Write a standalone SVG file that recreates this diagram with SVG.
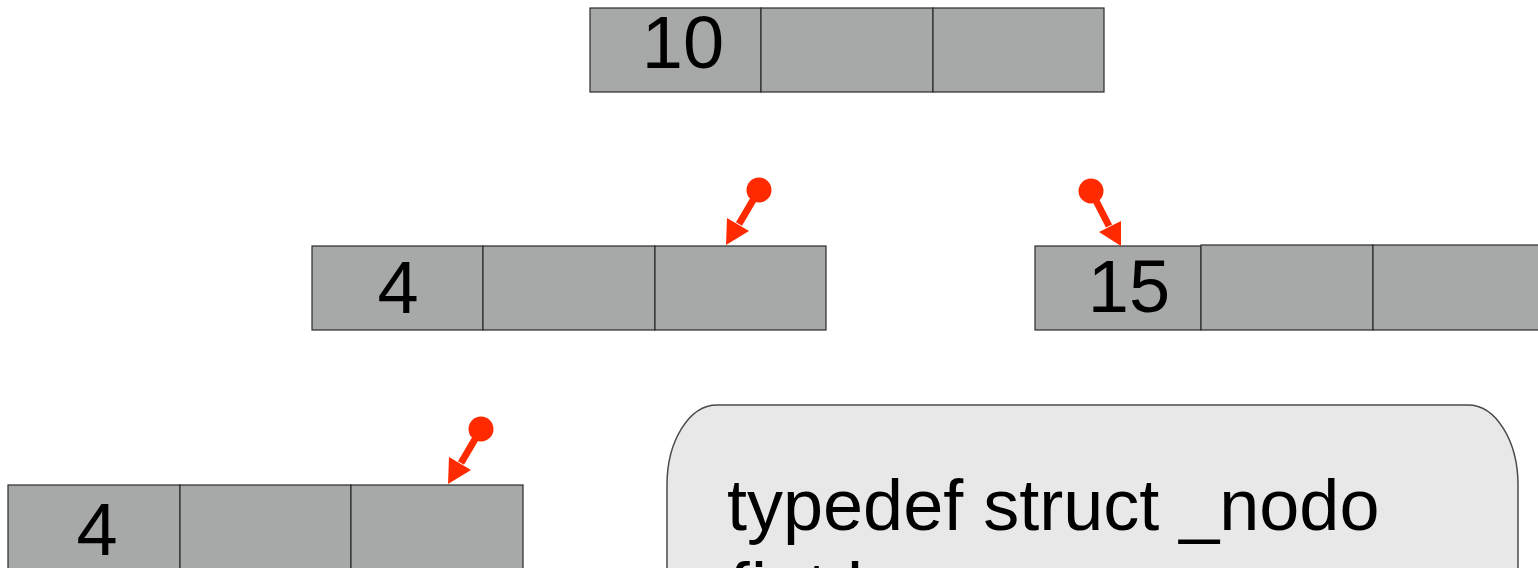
<svg xmlns="http://www.w3.org/2000/svg" width="1538" height="568" viewBox="0 0 1538 568">
  <style>
    .cell { fill: #a6a9a7; stroke: #2b2b2b; stroke-width: 1.2; }
    .val { font-family: "Liberation Sans", Arial, sans-serif; font-size: 74px; fill: #000; text-anchor: middle; }
    .code { font-family: "Liberation Sans", Arial, sans-serif; font-size: 72px; fill: #000; }
    .ptr { stroke: #ff2a00; stroke-width: 7; fill: none; }
    .dot, .head { fill: #ff2a00; }
  </style>

  <rect width="1538" height="568" fill="#ffffff"/>

  <!-- root node -->
  <g id="node-10">
    <rect class="cell" x="590" y="8" width="171" height="84"/>
    <rect class="cell" x="761" y="8" width="172" height="84"/>
    <rect class="cell" x="933" y="8" width="171" height="84"/>
    <text class="val" x="683" y="68">10</text>
  </g>

  <!-- left child -->
  <g id="node-4a">
    <rect class="cell" x="312" y="246" width="171" height="84"/>
    <rect class="cell" x="483" y="246" width="172" height="84"/>
    <rect class="cell" x="655" y="246" width="171" height="84"/>
    <text class="val" x="398" y="313">4</text>
  </g>

  <!-- right child -->
  <g id="node-15">
    <rect class="cell" x="1035" y="246" width="166" height="84"/>
    <rect class="cell" x="1201" y="245" width="172" height="85"/>
    <rect class="cell" x="1373" y="245" width="172" height="85"/>
    <text class="val" x="1129" y="312">15</text>
  </g>

  <!-- lower node -->
  <g id="node-4b">
    <rect class="cell" x="8" y="485" width="172" height="90"/>
    <rect class="cell" x="180" y="485" width="171" height="90"/>
    <rect class="cell" x="351" y="485" width="172" height="90"/>
    <text class="val" x="97" y="555">4</text>
  </g>

  <!-- struct declaration box -->
  <g id="code-box">
    <path d="M717,405 H1468 A50,80 0 0 1 1518,485 V600 H667 V485 A50,80 0 0 1 717,405 Z" fill="#e8e8e8" stroke="#4a4a4a" stroke-width="1.5"/>
    <text class="code" x="727" y="530">typedef struct _nodo</text>
    <text class="code" x="727" y="613">{int key;</text>
  </g>

  <!-- pointers: round tail, straight shaft, triangular head -->
  <g id="connectors">
    <circle class="dot" cx="759" cy="190" r="12.5"/>
    <line class="ptr" x1="759" y1="190" x2="739" y2="224"/>
    <polygon class="head" points="726,245 727,218 749,231"/>

    <circle class="dot" cx="1091" cy="191" r="12.5"/>
    <line class="ptr" x1="1091" y1="191" x2="1109" y2="226"/>
    <polygon class="head" points="1121,246 1099,232 1121,221"/>

    <circle class="dot" cx="481" cy="429" r="12.5"/>
    <line class="ptr" x1="481" y1="429" x2="461" y2="463"/>
    <polygon class="head" points="448,484 449,457 471,470"/>
  </g>
</svg>
